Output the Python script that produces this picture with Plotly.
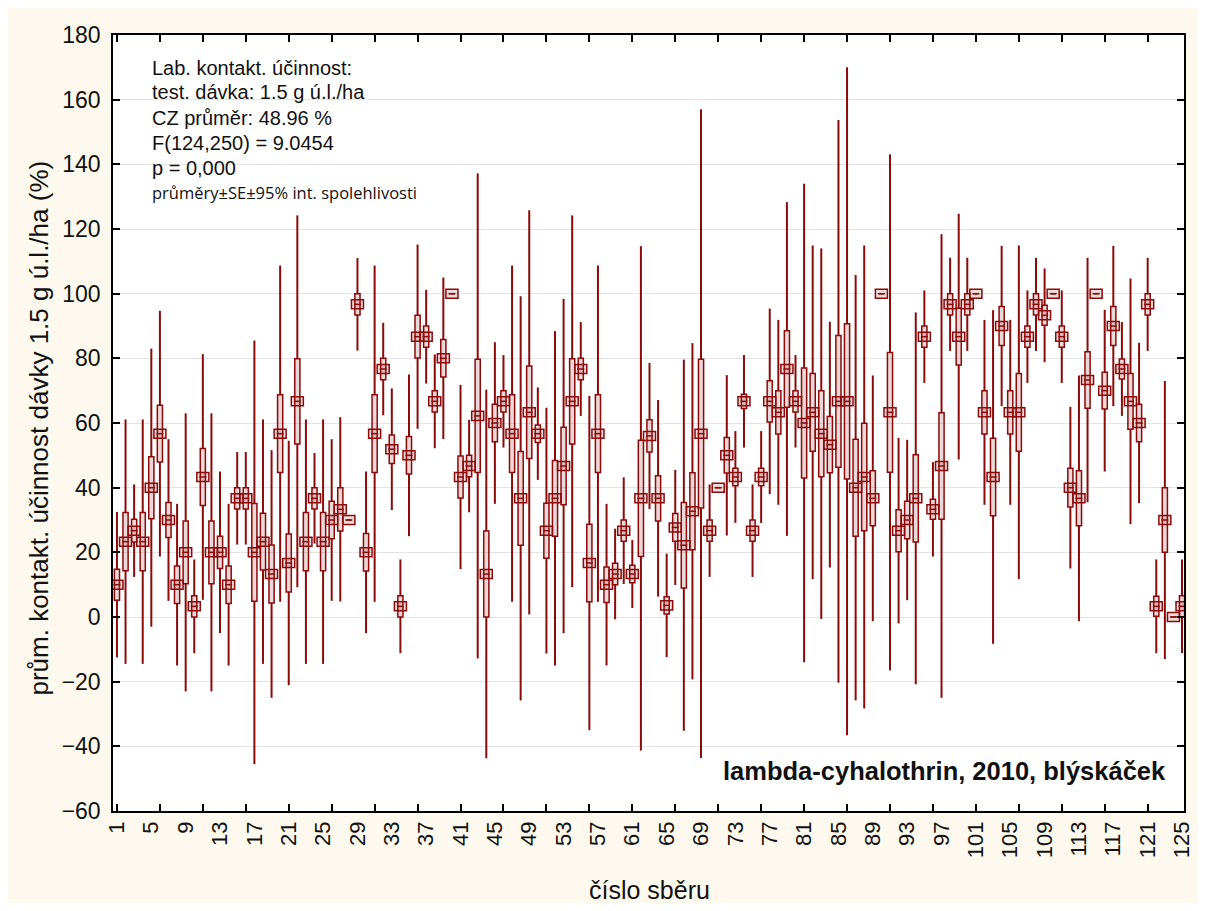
import plotly.graph_objects as go

# ---- data ----
sample_no = list(range(1, 126))
mean = [10, 23.3, 26.7, 23.3, 40, 56.7, 30, 10, 20, 3.3,
        43.3, 20, 20, 10, 36.7, 36.7, 20, 23.3, 13.3, 56.7,
        16.7, 66.7, 23.3, 36.7, 23.3, 30, 33.3, 30, 96.7, 20,
        56.7, 76.7, 51.9, 3.3, 50, 86.7, 86.7, 66.7, 80, 100,
        43.3, 46.7, 62.2, 13.3, 60, 66.7, 56.7, 36.7, 63.3, 56.7,
        26.7, 36.7, 46.7, 66.7, 76.7, 16.7, 56.7, 10, 13.3, 26.7,
        13.3, 36.7, 56, 36.7, 3.6, 27.7, 22.2, 32.7, 56.7, 26.7,
        40, 50, 43.3, 66.7, 26.7, 43.3, 66.7, 63.3, 76.7, 66.7,
        60, 63.3, 56.7, 53.3, 66.7, 66.7, 40, 43.3, 36.7, 100,
        63.3, 26.7, 30, 36.7, 86.7, 33.3, 46.7, 96.7, 86.7, 96.7,
        100, 63.3, 43.3, 90, 63.3, 63.3, 86.7, 96.7, 93.3, 100,
        86.7, 40, 36.7, 73.3, 100, 70, 90, 76.7, 66.7, 60,
        96.7, 3.3, 30, 0, 3.3]
se = [4.8, 9, 3.5, 9, 9.6, 8.8, 5.4, 5.8, 9.7, 3.3,
      8.8, 9.7, 5, 5.8, 3.3, 3.3, 15.1, 8.8, 9, 12,
      9, 13.2, 9, 3.3, 9, 5.8, 6.7, 0, 3.3, 5.8,
      12, 3.3, 4.4, 3.3, 5.8, 6.6, 3.3, 3.3, 5.8, 0,
      6.5, 3.3, 17.5, 13.3, 5.8, 3.3, 12, 14.5, 14.3, 2.7,
      8.5, 11.7, 12, 13.2, 3.3, 12, 12, 5.5, 3.3, 3.3,
      2.7, 18, 5, 7, 2.7, 4.3, 13.2, 11.9, 23, 3.3,
      0, 5.5, 2.7, 2.2, 3.3, 2.7, 6.4, 6.7, 11.8, 3.3,
      17, 12, 13.3, 8.7, 20.4, 24, 15, 16.6, 8.5, 0,
      18.5, 6.5, 5.8, 13.5, 3.3, 3.1, 16.5, 3.3, 8.8, 3.3,
      0, 6.7, 12, 6, 6.7, 12, 3.3, 3.3, 3.1, 0,
      3.3, 6, 8.5, 8.7, 0, 5.7, 6, 3.1, 8.6, 5.8,
      3.3, 3.1, 10, 0, 3.3]
ci = [22.5, 37.8, 14.3, 37.8, 43, 38, 25, 25, 43, 14.5,
      38, 43, 25, 25, 14.3, 14.3, 65.5, 37.8, 38.3, 52,
      37.8, 57.5, 37.8, 14, 37.8, 25, 28.5, 0, 14.3, 25,
      52, 14.3, 18.8, 14.5, 25, 28.5, 14.5, 14.5, 25, 0,
      28.5, 14.3, 75, 57, 25, 14.3, 52, 62.5, 62.5, 14.3,
      38, 51.7, 51.7, 57.5, 14.5, 51.7, 52, 25, 14, 16.5,
      10.5, 78, 22.6, 30.4, 16, 17.8, 57.4, 52, 100.3, 14.3,
      0, 24.8, 14.2, 14.3, 14.3, 14.2, 28.7, 28.6, 51.6, 14.3,
      74, 51.6, 57.3, 38, 87, 103.3, 65.8, 71.6, 38, 0,
      79.8, 28.7, 24.8, 57.5, 14.3, 14.6, 71.7, 14.4, 38, 14.4,
      0, 28.6, 51.6, 24.8, 28.6, 51.6, 14.3, 14.4, 14.5, 0,
      14.3, 25, 38, 37.8, 0, 25, 24.8, 14.5, 38, 24.8,
      14.4, 14.5, 43, 0, 14.5]

label_ticks = list(range(1, 126, 4))
mark_ticks = list(range(1, 126, 5))
y_ticks = list(range(-60, 181, 20))

info_lines = ["Lab. kontakt. účinnost:",
              "test. dávka: 1.5 g ú.l./ha",
              "CZ průměr: 48.96 %",
              "F(124,250) = 9.0454",
              "p = 0,000"]
legend_line = "průměry±SE±95% int. spolehlivosti"
series_label = "lambda-cyhalothrin, 2010, blýskáček"
y_title = "prům. kontakt. účinnost dávky 1.5 g ú.l./ha (%)"
x_title = "číslo sběru"

# ---- styling ----
RED = "#8B0A0A"
FILL_MEAN = "rgba(139,10,10,0.14)"
FILL_SE = "rgba(139,10,10,0.16)"
FONT = "Liberation Sans"
TXT = "#111111"
MEAN_H = 2.8   # height of mean box (y units)

wx, wy = [], []
for x, m, s, c in zip(sample_no, mean, se, ci):
    if c > s:
        wx += [x, x, None, x, x, None]
        wy += [m - c, m - s, None, m + s, m + c, None]

fig = go.Figure()
fig.add_trace(go.Scatter(x=wx, y=wy, mode="lines",
                         line=dict(color=RED, width=2), hoverinfo="skip",
                         showlegend=False))
fig.add_trace(go.Bar(x=sample_no, y=[MEAN_H] * len(mean),
                     base=[m - MEAN_H / 2 for m in mean], width=1.4,
                     marker=dict(color=FILL_MEAN, line=dict(color=RED, width=1.5)),
                     showlegend=False))
fig.add_trace(go.Bar(x=sample_no, y=[2 * s for s in se],
                     base=[m - s for m, s in zip(mean, se)], width=0.6,
                     marker=dict(color=FILL_SE, line=dict(color=RED, width=1.5)),
                     showlegend=False))
fig.add_trace(go.Scatter(x=sample_no, y=mean, mode="markers",
                         marker=dict(symbol="line-ew", size=5,
                                     line=dict(color=RED, width=1.5)),
                         showlegend=False))
# helper trace for the tick-mark axis
fig.add_trace(go.Scatter(x=[sample_no[0]], y=[mean[0]], xaxis="x2",
                         mode="markers", marker=dict(opacity=0),
                         hoverinfo="skip", showlegend=False))

fig.update_layout(
    width=1198, height=895,
    paper_bgcolor="#FDF9EE", plot_bgcolor="white",
    margin=dict(l=105, r=14, t=27, b=92),
    barmode="overlay",
    font=dict(family=FONT, color=TXT),
    xaxis=dict(range=[0.54, 125.23], tickmode="array", tickvals=label_ticks,
               ticktext=[str(v) for v in label_ticks], tickangle=-90,
               ticks="", showgrid=False, zeroline=False,
               showline=True, linecolor="black", linewidth=1.5, mirror=True,
               tickfont=dict(size=22, family=FONT, color=TXT)),
    xaxis2=dict(range=[0.54, 125.23], overlaying="x", anchor="y", side="bottom",
                tickmode="array", tickvals=mark_ticks, ticks="inside",
                ticklen=7, tickwidth=1.5, tickcolor="black",
                showticklabels=False, showgrid=False, zeroline=False,
                showline=True, linecolor="black", linewidth=1.5, mirror="ticks"),
    yaxis=dict(range=[-60, 180], tickmode="array", tickvals=y_ticks,
               ticks="inside", ticklen=7, tickwidth=1.5, tickcolor="black",
               showline=True, linecolor="black", linewidth=1.5, mirror="ticks",
               gridcolor="#E4E4E4", gridwidth=1, zeroline=False,
               ticklabelstandoff=6,
               tickfont=dict(size=23, family=FONT, color=TXT)),
)

ann = []
ys = [0.957, 0.926, 0.893, 0.861, 0.829]
for t, y in zip(info_lines, ys):
    ann.append(dict(text=t, x=0.035, y=y, xref="paper", yref="paper",
                    xanchor="left", yanchor="middle", showarrow=False,
                    font=dict(size=20, family=FONT, color=TXT)))
ann.append(dict(text=legend_line, x=0.035, y=0.797, xref="paper", yref="paper",
                xanchor="left", yanchor="middle", showarrow=False,
                font=dict(size=16.5, family="Open Sans", color=TXT)))
ann.append(dict(text="<b>" + series_label + "</b>", x=0.985, y=0.0515,
                xref="paper", yref="paper", xanchor="right", yanchor="middle",
                showarrow=False, font=dict(size=25.5, family=FONT, color=TXT)))
ann.append(dict(text=y_title,
                x=-0.0695, y=0.4936, xref="paper", yref="paper", textangle=-90,
                xanchor="center", yanchor="middle", showarrow=False,
                font=dict(size=26, family=FONT, color=TXT)))
ann.append(dict(text=x_title, x=0.5005, y=-0.1018, xref="paper", yref="paper",
                xanchor="center", yanchor="middle", showarrow=False,
                font=dict(size=25, family=FONT, color=TXT)))
fig.update_layout(annotations=ann)

fig.write_html("out.html")
